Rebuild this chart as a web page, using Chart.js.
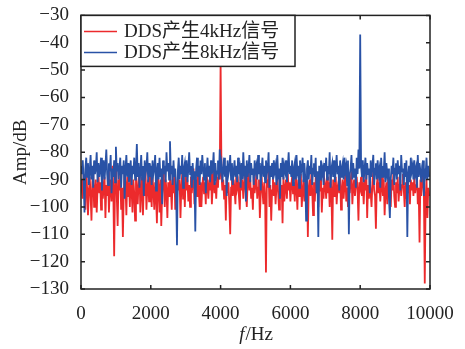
<!DOCTYPE html>
<html>
<head>
<meta charset="utf-8">
<script src="https://cdn.jsdelivr.net/npm/chart.js@4"></script>
<style>
  body { margin: 0; background: #fff; }
  #wrap { width: 465px; height: 349px; }
</style>
</head>
<body>
<div id="wrap"><canvas id="chart"></canvas></div>
<script>
// spectrum samples, 25 Hz apart
const freqStep = 25;
const seriesNames = ['DDS产生4kHz信号', 'DDS产生8kHz信号'];
const xTicks = [0, 2000, 4000, 6000, 8000, 10000];
const yTicks = [-130, -120, -110, -100, -90, -80, -70, -60, -50, -40, -30];

const redAmp = [
  -90, -94, -97, -88, -92, -101, -86, -93, -103, -95, -89, -96, -105, -91, -87, -100, -94, -90, -102, -93,
  -88, -95, -91, -101, -86, -97, -93, -89, -104, -92, -96, -87, -102, -94, -90, -98, -85, -93, -118, -91,
  -80, -96, -107, -90, -94, -88, -101, -93, -111, -95, -87, -92, -103, -89, -96, -91, -100, -86, -94, -102,
  -90, -95, -105, -88, -93, -99, -91, -86, -102, -94, -89, -103, -92, -96, -87, -101, -93, -90, -98, -85,
  -92, -100, -89, -94, -101, -91, -96, -106, -88, -93, -102, -90, -107, -95, -87, -92, -100, -90, -94, -104,
  -91, -96, -88, -93, -101, -90, -95, -87, -101, -92, -98, -89, -94, -90, -104, -93, -88, -97, -91, -100,
  -87, -94, -90, -98, -92, -100, -89, -95, -91, -86, -99, -93, -90, -96, -88, -94, -100, -91, -100, -92,
  -89, -95, -91, -99, -87, -93, -97, -90, -94, -88, -99, -92, -86, -95, -91, -97, -89, -93, -84, -90,
  -47, -88, -94, -90, -97, -92, -105, -89, -95, -91, -99, -110, -93, -88, -96, -90, -94, -99, -87, -93,
  -91, -96, -101, -89, -94, -90, -97, -92, -88, -95, -100, -91, -86, -94, -90, -97, -93, -101, -89, -95,
  -92, -88, -97, -93, -90, -104, -95, -89, -94, -99, -91, -96, -124, -90, -93, -87, -100, -92, -105, -94,
  -89, -96, -91, -99, -93, -88, -95, -101, -90, -94, -92, -106, -89, -98, -93, -90, -97, -88, -94, -91,
  -98, -92, -89, -95, -91, -98, -87, -93, -101, -90, -96, -92, -88, -100, -94, -90, -98, -91, -95, -89,
  -111, -93, -90, -96, -88, -94, -103, -91, -98, -89, -95, -92, -100, -90, -94, -88, -102, -93, -97, -90,
  -92, -97, -89, -95, -91, -100, -88, -94, -112, -90, -96, -92, -89, -99, -93, -91, -95, -88, -101, -94,
  -90, -97, -92, -88, -98, -93, -100, -90, -95, -91, -87, -99, -93, -90, -96, -92, -89, -94, -105, -91,
  -93, -89, -96, -91, -99, -90, -94, -88, -104, -92, -97, -90, -95, -100, -91, -87, -94, -96, -108, -92,
  -89, -95, -91, -98, -93, -88, -96, -90, -103, -94, -91, -99, -89, -95, -92, -100, -90, -94, -88, -96,
  -100, -91, -95, -89, -98, -93, -90, -96, -92, -88, -94, -100, -91, -97, -89, -95, -92, -99, -90, -94,
  -91, -96, -89, -95, -92, -87, -99, -93, -113, -90, -96, -91, -88, -95, -128, -97, -90, -104, -93, -96
];

const blueAmp = [
  -85, -88, -83, -90, -102, -86, -82, -89, -84, -92, -87, -81, -90, -85, -93, -83, -88, -86, -80, -91,
  -84, -89, -86, -82, -94, -87, -83, -90, -85, -79, -88, -92, -84, -87, -81, -95, -86, -89, -83, -91,
  -78, -87, -84, -90, -86, -82, -93, -85, -88, -83, -97, -86, -81, -89, -84, -91, -87, -83, -92, -85,
  -88, -82, -90, -86, -77, -89, -84, -93, -87, -81, -90, -85, -96, -83, -88, -86, -80, -91, -84, -89,
  -85, -92, -83, -88, -86, -81, -94, -87, -84, -90, -82, -89, -86, -99, -83, -88, -85, -91, -80, -87,
  -84, -90, -76, -88, -85, -92, -83, -89, -86, -94, -114, -87, -82, -90, -85, -88, -81, -93, -86, -84,
  -89, -83, -91, -86, -80, -88, -85, -93, -84, -90, -87, -109, -86, -82, -89, -85, -92, -83, -88, -81,
  -86, -90, -84, -95, -87, -82, -89, -85, -91, -83, -88, -86, -80, -92, -84, -89, -87, -83, -90, -79,
  -86, -84, -91, -87, -82, -89, -85, -96, -83, -88, -86, -81, -90, -84, -92, -87, -83, -89, -85, -91,
  -82, -88, -86, -93, -84, -90, -80, -87, -85, -98, -83, -89, -86, -81, -91, -84, -88, -86, -92, -83,
  -87, -85, -90, -81, -88, -84, -94, -86, -82, -89, -85, -91, -83, -88, -86, -80, -93, -85, -89, -84,
  -90, -83, -87, -85, -92, -81, -88, -86, -97, -84, -89, -82, -90, -85, -87, -83, -91, -86, -80, -88,
  -85, -89, -83, -92, -86, -84, -90, -81, -87, -85, -93, -83, -88, -86, -82, -91, -84, -89, -105, -86,
  -83, -90, -85, -88, -81, -92, -86, -84, -89, -82, -95, -87, -111, -85, -90, -83, -88, -86, -92, -84,
  -87, -82, -90, -85, -88, -80, -93, -86, -84, -89, -83, -91, -86, -81, -88, -85, -94, -83, -89, -86,
  -84, -90, -82, -87, -85, -92, -83, -110, -88, -86, -81, -90, -84, -89, -86, -93, -82, -88, -79, -86,
  -37, -85, -89, -83, -91, -86, -82, -90, -84, -88, -86, -95, -83, -89, -85, -81, -92, -86, -84, -90,
  -83, -88, -86, -93, -82, -89, -85, -87, -80, -91, -84, -88, -86, -97, -104, -90, -85, -88, -82, -92,
  -86, -84, -90, -83, -88, -85, -94, -81, -87, -86, -92, -84, -89, -83, -111, -88, -85, -91, -82, -87,
  -85, -90, -83, -88, -86, -93, -81, -89, -84, -87, -91, -85, -83, -96, -86, -88, -82, -90, -85, -89
];

const serif = "'Liberation Serif', 'Times New Roman', 'Noto Sans CJK SC', serif";
const inkColor = '#222';

const toPoints = (arr) => arr.map((v, i) => ({ x: i * freqStep, y: v }));

// box frame, inward ticks, legend and the italic x title
const frameBox = {
  id: 'frameBox',
  afterDatasetsDraw(chart) {
    const { ctx, chartArea: a, scales: { x, y } } = chart;
    ctx.save();
    ctx.strokeStyle = inkColor;
    ctx.lineWidth = 1.5;
    ctx.strokeRect(a.left, a.top, a.right - a.left, a.bottom - a.top);

    ctx.beginPath();
    xTicks.forEach((t) => {
      const px = x.getPixelForValue(t);
      ctx.moveTo(px, a.bottom); ctx.lineTo(px, a.bottom - 4);
      ctx.moveTo(px, a.top); ctx.lineTo(px, a.top + 4);
    });
    yTicks.forEach((t) => {
      const py = y.getPixelForValue(t);
      ctx.moveTo(a.left, py); ctx.lineTo(a.left + 4, py);
      ctx.moveTo(a.right, py); ctx.lineTo(a.right - 4, py);
    });
    ctx.stroke();

    // legend box
    const lx = a.left, ly = a.top, lw = 214, lh = 51;
    ctx.fillStyle = '#fff';
    ctx.fillRect(lx, ly, lw, lh);
    ctx.strokeRect(lx, ly, lw, lh);
    ctx.font = '19px ' + serif;
    ctx.textBaseline = 'middle';
    ctx.textAlign = 'left';
    chart.data.datasets.forEach((ds, i) => {
      const cy = ly + 16 + i * 21;
      ctx.strokeStyle = ds.borderColor;
      ctx.lineWidth = 1.5;
      ctx.beginPath();
      ctx.moveTo(lx + 3, cy); ctx.lineTo(lx + 36, cy);
      ctx.stroke();
      ctx.fillStyle = inkColor;
      ctx.fillText(ds.label, lx + 43, cy + 1);
    });

    // x title: italic f + /Hz
    ctx.fillStyle = inkColor;
    ctx.textBaseline = 'alphabetic';
    const cx = (a.left + a.right) / 2;
    ctx.font = 'italic 19px ' + serif;
    const fW = ctx.measureText('f').width;
    ctx.font = '19px ' + serif;
    const restW = ctx.measureText('/Hz').width;
    const startX = cx - (fW + restW) / 2;
    ctx.font = 'italic 19px ' + serif;
    ctx.fillText('f', startX, 340);
    ctx.font = '19px ' + serif;
    ctx.fillText('/Hz', startX + fW + 1, 340);
    ctx.restore();
  }
};

new Chart(document.getElementById('chart'), {
  type: 'line',
  data: {
    datasets: [
      {
        label: seriesNames[0],
        data: toPoints(redAmp),
        borderColor: '#ec2a2c',
        borderWidth: 1.8,
        pointRadius: 0,
        order: 1
      },
      {
        label: seriesNames[1],
        data: toPoints(blueAmp),
        borderColor: '#2952a6',
        borderWidth: 1.8,
        pointRadius: 0,
        order: 0
      }
    ]
  },
  options: {
    responsive: true,
    maintainAspectRatio: false,
    animation: false,
    layout: { padding: { top: 12, right: 35, left: 0, bottom: 0 } },
    plugins: {
      legend: { display: false },
      tooltip: { enabled: false }
    },
    scales: {
      x: {
        type: 'linear',
        min: 0,
        max: 10000,
        afterBuildTicks: (s) => { s.ticks = xTicks.map((v) => ({ value: v })); },
        afterFit: (s) => { s.height = 60; },
        grid: { display: false },
        border: { display: false },
        ticks: {
          color: inkColor,
          font: { family: serif, size: 19 },
          padding: 6,
          maxRotation: 0,
          callback: (v) => String(v)
        }
      },
      y: {
        min: -130,
        max: -30,
        afterBuildTicks: (s) => { s.ticks = yTicks.map((v) => ({ value: v })); },
        afterFit: (s) => { s.width = 81; },
        grid: { display: false },
        border: { display: false },
        title: {
          display: true,
          text: 'Amp/dB',
          color: inkColor,
          font: { family: serif, size: 19 },
          padding: { top: 10, bottom: 0 }
        },
        ticks: {
          color: inkColor,
          font: { family: serif, size: 19 },
          padding: 4,
          callback: (v) => String(v).replace('-', '\u2212')
        }
      }
    }
  },
  plugins: [frameBox]
});
</script>
</body>
</html>
